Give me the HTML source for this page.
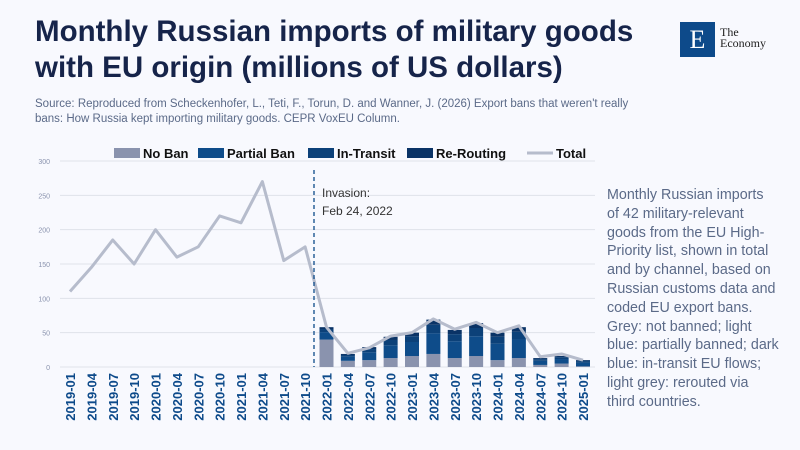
<!DOCTYPE html>
<html><head><meta charset="utf-8"><style>
body{margin:0;background:#f8f9fe;}
.w{position:relative;width:800px;height:450px;background:#f8f9fe;font-family:"Liberation Sans",sans-serif;overflow:hidden}
h1{position:absolute;left:35px;top:14px;margin:0;font-size:29.5px;line-height:36px;color:#16244a;font-weight:bold}
.src{position:absolute;left:35px;top:97px;font-size:11.5px;line-height:15px;color:#5b6a88;width:605px}
.side{position:absolute;left:607px;top:186px;width:172px;font-size:14.3px;line-height:18.8px;color:#5b6a88}
</style></head><body><div class="w">
<h1>Monthly Russian imports of military goods<br>with EU origin (millions of US dollars)</h1>
<div class="src">Source: Reproduced from Scheckenhofer, L., Teti, F., Torun, D. and Wanner, J. (2026) Export bans that weren't really bans: How Russia kept importing military goods. CEPR VoxEU Column.</div>
<div style="position:absolute;left:680px;top:22px;width:35px;height:35px;background:#0d4a8a;color:#fff;font-family:'Liberation Serif',serif;font-size:26px;text-align:center;line-height:35px">E</div>
<div style="position:absolute;left:720px;top:27px;font-family:'Liberation Serif',serif;font-size:12px;line-height:11px;color:#222">The<br>Economy</div>
<div class="side">Monthly Russian imports of 42 military-relevant goods from the EU High-Priority list, shown in total and by channel, based on Russian customs data and coded EU export bans. Grey: not banned; light blue: partially banned; dark blue: in-transit EU flows; light grey: rerouted via third countries.</div>
<svg id="c" width="800" height="450" style="position:absolute;left:0;top:0"></svg>
</div>
<script>
const s=document.getElementById('c');let h='';
const y0=367,k=206/300;const Y=v=>y0-v*k;const X=i=>70+i*21.375;
for(let v=0;v<=300;v+=50){h+=`<line x1="60" x2="595" y1="${Y(v)}" y2="${Y(v)}" stroke="#dfe2ea" stroke-width="1"/><text x="50" y="${Y(v)+3}" font-size="7" fill="#8a93ae" text-anchor="end">${v}</text>`;}
const tot=[110,145,185,150,200,160,175,220,210,270,155,175,58,20,28,45,50,70,55,65,50,60,15,19,10];
const bar=[58,19,29,44,50,69,54,64,50,58,13,16,10];
const nb=[40,9,10,13,16,19,13,16,10,13,3,5,1];
for(let j=0;j<13;j++){const i=j+12,x=X(i)-7;let b=nb[j],r=bar[j]-b;
const seg=[[b,'#8a93ae'],[r*0.6,'#0e4c8a'],[r*0.25,'#0c4179'],[r*0.15,'#0a3366']];let c=0;
for(const [v,col] of seg){h+=`<rect x="${x}" y="${Y(c+v)}" width="14" height="${v*k}" fill="${col}"/>`;c+=v;}}
h+=`<polyline fill="none" stroke="#b6bccc" stroke-width="3" stroke-linejoin="round" points="${tot.map((v,i)=>X(i)+','+Y(v)).join(' ')}"/>`;
h+=`<line x1="314" x2="314" y1="170" y2="367" stroke="#0d4a8a" stroke-width="1.3" stroke-dasharray="4,3"/>`;
h+=`<text x="322" y="197" font-size="12" fill="#333">Invasion:</text><text x="322" y="215" font-size="12" fill="#333">Feb 24, 2022</text>`;
const yrs=['2019','2020','2021','2022','2023','2024','2025'],ms=['01','04','07','10'];
for(let i=0;i<25;i++){const l=yrs[Math.floor(i/4)]+'-'+ms[i%4];h+=`<text transform="translate(${X(i)+5},373) rotate(-90)" font-size="13" font-weight="bold" fill="#0d4a8a" text-anchor="end">${l}</text>`;}
const lg=[[114,'No Ban','#8a93ae'],[198,'Partial Ban','#0e4c8a'],[308,'In-Transit','#0c4179'],[407,'Re-Routing','#0a3366']];
for(const [x,t,c] of lg){h+=`<rect x="${x}" y="148" width="26" height="10" fill="${c}"/><text x="${x+29}" y="158" font-size="13" font-weight="bold" fill="#111">${t}</text>`;}
h+=`<line x1="527" x2="553" y1="153" y2="153" stroke="#b6bccc" stroke-width="3"/><text x="556" y="158" font-size="13" font-weight="bold" fill="#111">Total</text>`;
s.innerHTML=h;
</script></body></html>
